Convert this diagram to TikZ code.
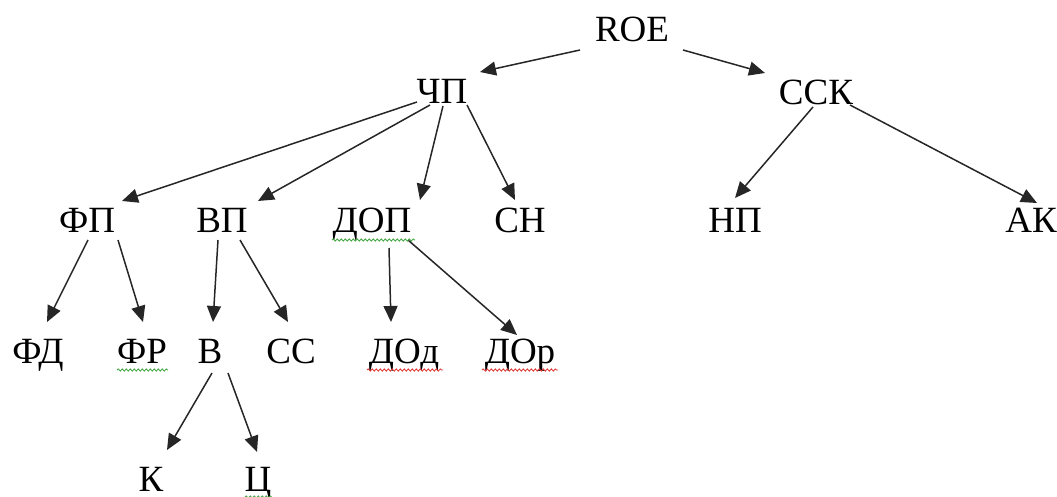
\documentclass[tikz,border=0pt]{standalone}
\usepackage{fontspec}
\setmainfont{Liberation Serif}
\usetikzlibrary{arrows.meta,calc,decorations.pathmorphing}
\definecolor{spellgreen}{RGB}{70,170,70}
\definecolor{spellred}{RGB}{225,60,60}
\begin{document}
\begin{tikzpicture}[x=1pt,y=-1pt,
  lbl/.style={inner sep=0pt, anchor=base, font=\fontsize{37}{40}\selectfont},
  arr/.style={line width=1.5pt, draw=black!85, -{Triangle[length=16pt,width=14pt]}},
  wavy/.style={decorate, decoration={snake, amplitude=1.1pt, segment length=4pt}, line width=0.9pt}]
\useasboundingbox (0,0) rectangle (1057,497);
% nodes
\node[lbl] (roe) at (632,42) {ROE};
\node[lbl] (chp) at (442,104) {ЧП};
\node[lbl] (ssk) at (816,105) {ССК};
\node[lbl] (fp) at (87,233) {ФП};
\node[lbl] (vp) at (222,233) {ВП};
\node[lbl] (dop) at (372,233) {ДОП};
\node[lbl] (sn) at (520,233) {СН};
\node[lbl] (np) at (735,233) {НП};
\node[lbl] (ak) at (1031,233) {АК};
\node[lbl] (fd) at (38,363) {ФД};
\node[lbl] (fr) at (142,363) {ФР};
\node[lbl] (v) at (210,363) {В};
\node[lbl] (ss) at (291,363) {СС};
\node[lbl] (dod) at (404,363) {ДОд};
\node[lbl] (dor) at (520,363) {ДОр};
\node[lbl] (k) at (151,491) {К};
\node[lbl] (c) at (258,491) {Ц};
% connectors
\draw[arr] ($(roe.base)+(-52,8)$) -- ($(chp.base)+(38,-32)$);
\draw[arr] ($(roe.base)+(51,8)$) -- ($(ssk.base)+(-51,-32)$);
\draw[arr] ($(chp.base)+(-25,-2)$) -- ($(fp.base)+(35,-32)$);
\draw[arr] ($(chp.base)+(-12,1)$) -- ($(vp.base)+(36,-32)$);
\draw[arr] ($(chp.base)+(1,2)$) -- ($(dop.base)+(48,-33)$);
\draw[arr] ($(chp.base)+(25,1)$) -- ($(sn.base)+(-5,-33)$);
\draw[arr] ($(ssk.base)+(-3,2)$) -- ($(np.base)+(0,-35)$);
\draw[arr] ($(ssk.base)+(34,0)$) -- ($(ak.base)+(6,-30)$);
\draw[arr] ($(fp.base)+(1,7)$) -- ($(fd.base)+(9,-41)$);
\draw[arr] ($(fp.base)+(31,7)$) -- ($(fr.base)+(1,-41)$);
\draw[arr] ($(vp.base)+(-4,7)$) -- ($(v.base)+(3,-41)$);
\draw[arr] ($(vp.base)+(18,7)$) -- ($(ss.base)+(-3,-41)$);
\draw[arr] ($(dop.base)+(17,15)$) -- ($(dod.base)+(-13,-41)$);
\draw[arr] ($(dop.base)+(36,7)$) -- ($(dor.base)+(-3,-28)$);
\draw[arr] ($(v.base)+(2,10)$) -- ($(k.base)+(16,-41)$);
\draw[arr] ($(v.base)+(18,10)$) -- ($(c.base)+(-1,-39)$);
% spell-check underlines
\draw[wavy, spellgreen] ($(dop.base)+(-40,7)$) -- ($(dop.base)+(43,7)$);
\draw[wavy, spellgreen] ($(fr.base)+(-25,7)$) -- ($(fr.base)+(26,7)$);
\draw[wavy, spellred] ($(dod.base)+(-37,7)$) -- ($(dod.base)+(39,7)$);
\draw[wavy, spellred] ($(dor.base)+(-38,7)$) -- ($(dor.base)+(38,7)$);
\draw[wavy, spellgreen] ($(c.base)+(-13,6)$) -- ($(c.base)+(14,6)$);
\end{tikzpicture}
\end{document}
